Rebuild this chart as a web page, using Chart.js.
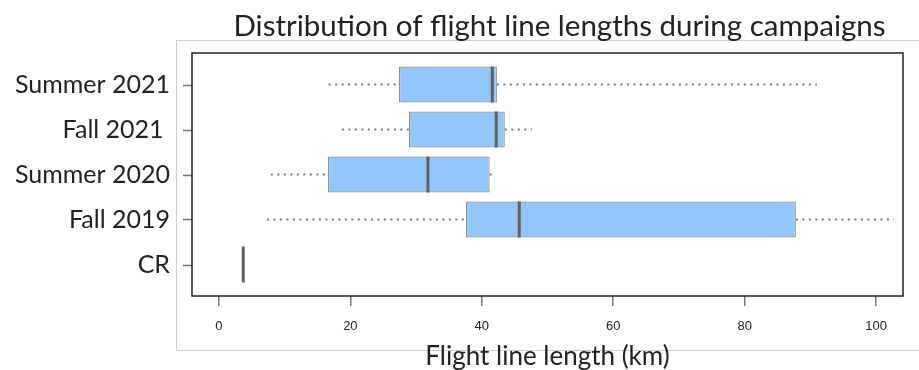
<!DOCTYPE html>
<html lang="en">
  <head>
    <meta charset="UTF-8">
    <title>Flight line lengths</title>
    <script src="https://cdn.jsdelivr.net/npm/chart.js"></script>
    <style>
      html, body { margin: 0; padding: 0; background: #fff; }
      #wrap { width: 919px; height: 370px; }
    </style>
  </head>
  <body>
    <div id="wrap"><canvas id="boxChart" width="919" height="370"></canvas></div>
    <script>
      // five-number summaries (km)
      const campaigns = ['Summer 2021', 'Fall 2021 ', 'Summer 2020', 'Fall 2019', 'CR'];
      const whiskerLow = [16.7, 18.7, 7.9, 7.3, 3.7];
      const q1 = [27.4, 28.9, 16.6, 37.6, 3.7];
      const median = [41.6, 42.2, 31.8, 45.7, 3.7];
      const q3 = [42.3, 43.5, 41.2, 87.8, 3.7];
      const whiskerHigh = [91.0, 47.6, 41.6, 102.7, 3.7];
      const xTicks = [0, 20, 40, 60, 80, 100];

      const FONT = 'Lato, "Open Sans", sans-serif';

      // frame, whiskers, medians, y tick marks and title
      const boxExtras = {
        id: 'boxExtras',
        beforeDraw(chart) {
          const {ctx, chartArea: a} = chart;
          ctx.save();
          ctx.strokeStyle = '#cfcfcf';
          ctx.lineWidth = 1;
          ctx.strokeRect(a.left - 15.5, a.top - 12.5, chart.width, a.bottom - a.top + 67);
          ctx.restore();
        },
        beforeDatasetsDraw(chart) {
          const {ctx, chartArea: a} = chart;
          const x = chart.scales.x, y = chart.scales.y;
          ctx.save();
          // y tick marks
          ctx.strokeStyle = '#777';
          ctx.lineWidth = 1.5;
          campaigns.forEach((c, i) => {
            const py = Math.round(y.getPixelForValue(i)) + 0.5;
            ctx.beginPath();
            ctx.moveTo(a.left - 9, py);
            ctx.lineTo(a.left, py);
            ctx.stroke();
          });
          // whiskers
          ctx.strokeStyle = '#7a7a7a';
          ctx.lineWidth = 1.8;
          ctx.setLineDash([2, 4.5]);
          campaigns.forEach((c, i) => {
            const py = y.getPixelForValue(i);
            ctx.beginPath();
            ctx.moveTo(x.getPixelForValue(whiskerLow[i]), py);
            ctx.lineTo(x.getPixelForValue(q1[i]), py);
            ctx.moveTo(x.getPixelForValue(q3[i]), py);
            ctx.lineTo(x.getPixelForValue(whiskerHigh[i]), py);
            ctx.stroke();
          });
          ctx.restore();
        },
        afterDatasetsDraw(chart) {
          const {ctx, chartArea: a} = chart;
          const x = chart.scales.x;
          const meta = chart.getDatasetMeta(0);
          ctx.save();
          ctx.strokeStyle = '#606060';
          ctx.lineWidth = 3;
          campaigns.forEach((c, i) => {
            const bar = meta.data[i];
            const px = x.getPixelForValue(median[i]);
            ctx.beginPath();
            ctx.moveTo(px, bar.y - bar.height / 2);
            ctx.lineTo(px, bar.y + bar.height / 2);
            ctx.stroke();
          });
          // plot box
          ctx.strokeStyle = '#222';
          ctx.lineWidth = 1.5;
          ctx.strokeRect(a.left, a.top, a.right - a.left, a.bottom - a.top);
          // title
          ctx.fillStyle = '#222';
          ctx.textAlign = 'center';
          ctx.textBaseline = 'alphabetic';
          ctx.font = '29.5px ' + FONT;
          ctx.fillText('Distribution of flight line lengths during campaigns', (a.left + a.right) / 2 + 12, a.top - 17);
          ctx.restore();
        }
      };

      new Chart(document.getElementById('boxChart'), {
        type: 'bar',
        data: {
          datasets: [{
            data: campaigns.map((c, i) => ({y: i, x: [q1[i], q3[i]]})),
            backgroundColor: '#94c6fc',
            borderColor: '#8e8e8e',
            borderWidth: 1.2,
            borderSkipped: false,
            categoryPercentage: 0.8,
            barPercentage: 1.0
          }]
        },
        plugins: [boxExtras],
        options: {
          indexAxis: 'y',
          responsive: false,
          animation: false,
          layout: { padding: { top: 53, right: 16, left: 0, bottom: 0 } },
          plugins: {
            legend: { display: false },
            tooltip: { enabled: false },
            title: { display: false }
          },
          scales: {
            x: {
              type: 'linear',
              min: -4.1,
              max: 104.1,
              afterBuildTicks: (scale) => { scale.ticks = xTicks.map(v => ({value: v})); },
              afterFit: (scale) => { scale.height = 74; },
              border: { display: false },
              grid: { drawOnChartArea: false, tickLength: 10, color: '#777', lineWidth: 1.5 },
              ticks: { color: '#222', padding: 13, font: { family: '"Liberation Sans", Arial, sans-serif', size: 13 } },
              title: {
                display: true,
                text: 'Flight line length (km)',
                color: '#222',
                padding: { top: 0, bottom: -2 },
                font: { family: FONT, size: 26 }
              }
            },
            y: {
              type: 'linear',
              reverse: true,
              offset: false,
              min: -0.7,
              max: 4.7,
              afterBuildTicks: (scale) => { scale.ticks = campaigns.map((c, i) => ({value: i})); },
              afterFit: (scale) => { scale.width = 192; },
              border: { display: false },
              grid: { display: false, offset: false, tickLength: 9 },
              ticks: {
                color: '#222',
                padding: 13,
                font: { family: FONT, size: 25 },
                callback: (v) => campaigns[v]
              }
            }
          }
        }
      });
    </script>
  </body>
</html>
